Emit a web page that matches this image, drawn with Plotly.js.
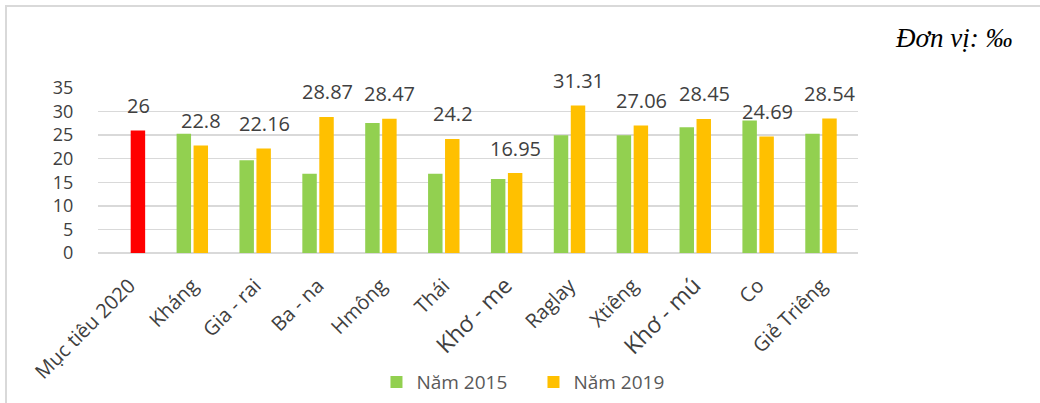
<!DOCTYPE html>
<html>
<head>
<meta charset="utf-8">
<script src="https://cdn.plot.ly/plotly-3.0.1.min.js"></script>
<style>
  html, body { margin: 0; padding: 0; background: #ffffff; }
  #chart { position: absolute; left: 0; top: 0; width: 1040px; height: 403px; }
  .bline { position: absolute; background: #d9d9d9; }
</style>
</head>
<body>
<div id="chart"></div>
<div class="bline" style="left:5px; top:5px; width:1035px; height:2px;"></div>
<div class="bline" style="left:5px; top:5px; width:2px; height:398px;"></div>
<script>
// ---- data ----
const categories = ["Mục tiêu 2020", "Kháng", "Gia - rai", "Ba - na", "Hmông", "Thái", "Khơ - me", "Raglay", "Xtiêng", "Khơ - mú", "Co", "Giẻ Triêng"];
const targetLabel = "Mục tiêu 2020";
const targetValue = 26;
const year2015 = [null, 25.3, 19.7, 16.8, 27.6, 16.8, 15.7, 25.0, 25.0, 26.7, 28.1, 25.3];
const year2019 = [null, 22.8, 22.16, 28.87, 28.47, 24.2, 16.95, 31.31, 27.06, 28.45, 24.69, 28.54];
const yTicks = [0, 5, 10, 15, 20, 25, 30, 35];

const FONT = "Open Sans";
const TXT = "#404040";
const bw = 0.23;
const off2015 = -0.25;
const off2019 = 0.02;

const tickText = categories.map(c => c.startsWith("Khơ") ? '<span style="font-size:23px">' + c + '</span>' : c);

const traces = [
  { type: "bar", name: "Năm 2015", x: categories, y: year2015,
    marker: { color: "#92d050" }, width: bw, offset: off2015, hoverinfo: "none" },
  { type: "bar", name: "Năm 2019", x: categories, y: year2019,
    marker: { color: "#ffc000" }, width: bw, offset: off2019, hoverinfo: "none" },
  { type: "bar", name: targetLabel, x: [targetLabel], y: [targetValue], showlegend: false,
    marker: { color: "#ff0000" }, width: bw, offset: off2019, hoverinfo: "none" }
];

// data labels (2019 values and target)
const labelX = [targetLabel];
const labelY = [targetValue];
categories.forEach((c, i) => { if (year2019[i] != null) { labelX.push(c); labelY.push(year2019[i]); } });
const annotations = labelX.map((c, i) => ({
  x: c, y: labelY[i], xref: "x", yref: "y", text: String(labelY[i]),
  showarrow: false, xanchor: "center", yanchor: "middle",
  xshift: 9, yshift: 25,
  font: { family: FONT, size: 20, color: TXT }
}));
annotations.push({
  xref: "paper", yref: "paper", x: 1.205, y: 1.3, xanchor: "right", yanchor: "middle",
  text: "Đơn vị: ‰", showarrow: false,
  font: { family: "Liberation Serif", size: 27, color: "#000000", style: "italic" }
});

const layout = {
  width: 1040, height: 403,
  margin: { l: 98, r: 182, t: 88, b: 150 },
  paper_bgcolor: "rgba(0,0,0,0)", plot_bgcolor: "rgba(0,0,0,0)",
  barmode: "overlay",
  font: { family: FONT, color: TXT },
  xaxis: {
    type: "category", categoryarray: categories, categoryorder: "array",
    tickvals: categories, ticktext: tickText,
    tickangle: -45, tickfont: { family: FONT, size: 20, color: TXT },
    ticks: "outside", ticklen: 12, tickcolor: "rgba(0,0,0,0)",
    showline: false, showgrid: false, zeroline: false, automargin: false
  },
  yaxis: {
    range: [0, 35], tickvals: yTicks, ticktext: yTicks.map(String),
    tickfont: { family: FONT, size: 18, color: TXT },
    ticks: "outside", ticklen: 20, tickcolor: "rgba(0,0,0,0)",
    showgrid: true, gridcolor: "#d9d9d9", gridwidth: 1.5,
    zeroline: true, zerolinecolor: "#d9d9d9", zerolinewidth: 1.5, showline: false, automargin: false
  },
  legend: {
    orientation: "h", xref: "container", yref: "container",
    x: 0.362, y: 0.052, xanchor: "left", yanchor: "middle",
    font: { family: FONT, size: 19, color: "#595959" },
    itemwidth: 30, entrywidth: 112, bgcolor: "rgba(0,0,0,0)"
  },
  annotations: annotations,
  showlegend: true
};

Plotly.newPlot("chart", traces, layout, { staticPlot: true, displayModeBar: false });
</script>
</body>
</html>
